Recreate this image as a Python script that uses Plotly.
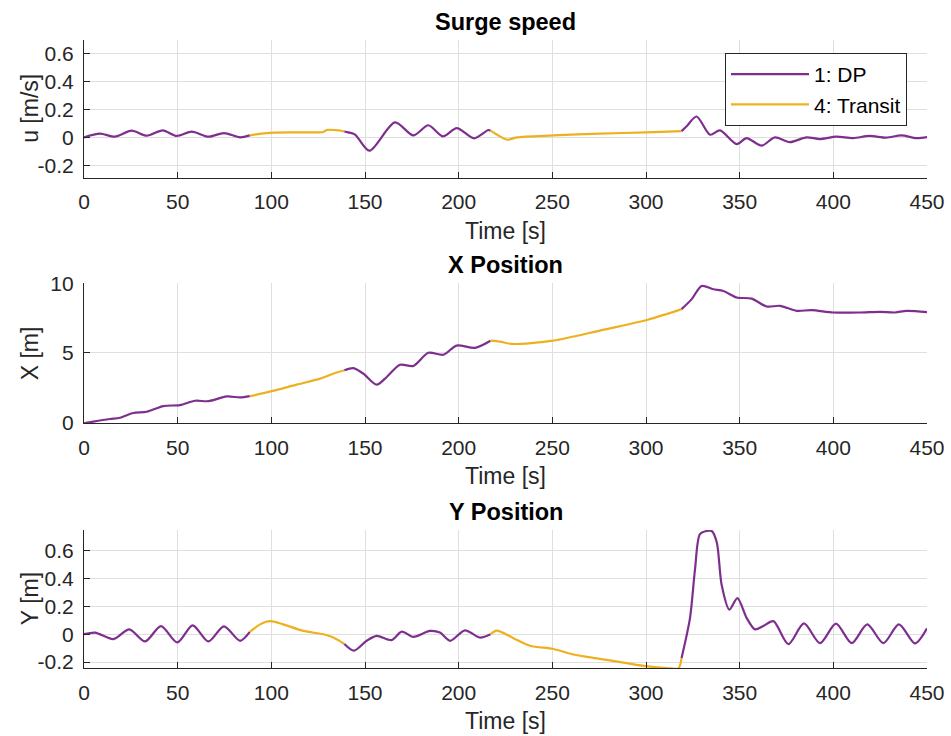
import plotly.graph_objects as go

# ---------------- data ----------------
MODE_BOUNDS = [0, 88.5, 139, 217, 319, 450]
MODE_NAMES = ["1: DP", "4: Transit", "1: DP", "4: Transit", "1: DP"]

t_u = [0, 8.5, 16.5, 25.4, 33.5, 42, 49.5, 57.5, 66.4, 74.7, 83.3, 88.5,
       97.5, 113.5, 127.8, 129.5, 136, 139,
       141, 144.7, 152.3, 166, 175.8, 183.8, 191.5, 199, 208.2, 215.8, 217,
       222, 226, 231, 250.6, 275.4, 300.4, 319,
       321.7, 327, 334.2, 339.5, 348.4, 353.7, 361.7, 368.8, 376.8, 385.7,
       392.8, 401.6, 410.5, 419.4, 428.3, 436.3, 444.3, 450]
u_vals = [0, 0.027, 0.005, 0.048, 0.012, 0.05, 0.01, 0.041, 0.005, 0.031, 0.0, 0.014,
          0.031, 0.036, 0.039, 0.053, 0.05, 0.042,
          0.036, 0.02, -0.096, 0.108, 0.014, 0.087, 0.007, 0.067, -0.007, 0.053, 0.048,
          0.007, -0.017, 0.0, 0.014, 0.027, 0.036, 0.045,
          0.08, 0.15, 0.019, 0.05, -0.048, -0.005, -0.06, 0.0, -0.034, 0.0,
          -0.012, 0.005, -0.005, 0.01, -0.002, 0.014, -0.005, 0.002]

t_x = [0, 5, 13.9, 19.2, 26.3, 33.5, 42.3, 51.2, 59.3, 66.4, 76.2, 83.3, 88.5,
       100.2, 113.5, 126, 133, 139,
       143.8, 149.1, 156.2, 161.6, 168.7, 175.8, 183.8, 191.8, 198.9, 208.7, 217,
       222, 228.3, 250.6, 275.4, 300.9, 319,
       324.4, 329.7, 335.9, 341.3, 348.4, 356.4, 364.4, 371.5, 380.4, 388.4,
       400, 414.2, 424.9, 432.9, 439.1, 450]
x_vals = [-0.07, 0.05, 0.24, 0.33, 0.67, 0.76, 1.17, 1.24, 1.55, 1.52, 1.86, 1.79, 1.88,
          2.24, 2.71, 3.14, 3.5, 3.75,
          3.9, 3.5, 2.71, 3.26, 4.14, 4.05, 5.0, 4.86, 5.52, 5.36, 5.87,
          5.81, 5.64, 5.88, 6.6, 7.38, 8.14,
          8.86, 9.81, 9.57, 9.45, 8.98, 8.9, 8.33, 8.38, 8.02, 8.07,
          7.9, 7.9, 7.95, 7.9, 8.02, 7.93]

t_y = [0, 5.9, 15.7, 24.2, 32.6, 41.1, 49.8, 58, 66.4, 74.7, 83.3, 88.5,
       94, 99.3, 106.4, 117.1, 127.8, 133.1, 139,
       144.1, 150.9, 156.2, 164.2, 169.6, 175.8, 184.7, 190, 195.4, 203.4, 211.4, 217,
       220.3, 229.2, 238.1, 250.6, 261.2, 275.4, 289.6, 300.9, 311, 317.3, 319,
       323.5, 326.2, 328.8, 332.4, 335.1, 337.8, 340.4, 344.5, 348.8, 353.7, 358.2,
       362.6, 368, 376, 384.3, 392.9, 401.4, 409.8, 418.1, 426.7, 435, 443.6, 450]
y_vals = [0, 0.012, -0.035, 0.035, -0.052, 0.059, -0.059, 0.064, -0.052, 0.057, -0.047, 0.017,
          0.071, 0.094, 0.071, 0.024, 0.0, -0.024, -0.07,
          -0.118, -0.047, -0.012, -0.042, 0.019, -0.019, 0.024, 0.012, -0.047, 0.028, -0.024, 0.0,
          0.026, -0.028, -0.083, -0.106, -0.146, -0.177, -0.208, -0.231, -0.243, -0.245, -0.17,
          0.118, 0.472, 0.72, 0.743, 0.743, 0.66, 0.354, 0.177, 0.26, 0.118, 0.035,
          0.059, 0.094, -0.071, 0.078, -0.064, 0.076, -0.064, 0.071, -0.064, 0.071, -0.066, 0.042]

x_ticks = [0, 50, 100, 150, 200, 250, 300, 350, 400, 450]
u_ticks = [-0.2, 0, 0.2, 0.4, 0.6]
u_ticktext = ["-0.2", "0", "0.2", "0.4", "0.6"]
X_ticks = [0, 5, 10]
Y_ticks = [-0.2, 0, 0.2, 0.4, 0.6]
Y_ticktext = ["-0.2", "0", "0.2", "0.4", "0.6"]

titles = ["Surge speed", "X Position", "Y Position"]
ylabels = ["u [m/s]", "X [m]", "Y [m]"]
xlabel = "Time [s]"

# ---------------- styling ----------------
W, H = 951, 736
COL = {"1: DP": "#7E2F8E", "4: Transit": "#EDB120"}
FONT = "Liberation Sans, Arial, Helvetica, sans-serif"
AXC = "#262626"
GRID = "#dfdfdf"

def px_y(p):
    return 1 - p / H

x_dom = [84 / W, 927 / W]
panels = [  # (top px, bottom px)
    (40, 177.7),
    (283.3, 423.3),
    (530, 668.3),
]
yranges = [[-0.29, 0.7], [-0.07, 10], [-0.245, 0.75]]
yticks = [(u_ticks, u_ticktext), (X_ticks, [str(v) for v in X_ticks]), (Y_ticks, Y_ticktext)]
series = [(t_u, u_vals), (t_x, x_vals), (t_y, y_vals)]

fig = go.Figure()
shown = set()
for k, (tt, vv) in enumerate(series):
    xa = "x" if k == 0 else f"x{k+1}"
    ya = "y" if k == 0 else f"y{k+1}"
    for s in range(len(MODE_NAMES)):
        lo, hi = MODE_BOUNDS[s], MODE_BOUNDS[s + 1]
        seg_t = [t for t in tt if lo <= t <= hi]
        seg_v = [v for t, v in zip(tt, vv) if lo <= t <= hi]
        name = MODE_NAMES[s]
        show = (k == 0 and name not in shown)
        if show:
            shown.add(name)
        fig.add_trace(go.Scatter(
            x=seg_t, y=seg_v, mode="lines", name=name, legendgroup=name,
            showlegend=show, xaxis=xa, yaxis=ya,
            line=dict(color=COL[name], width=2.2, shape="spline", smoothing=0.8),
        ))

annotations = []
layout = dict(
    width=W, height=H, margin=dict(l=0, r=0, t=0, b=0, autoexpand=False),
    paper_bgcolor="white", plot_bgcolor="white",
    font=dict(family=FONT, size=21, color=AXC),
    showlegend=True,
    legend=dict(x=907 / W, xanchor="right", y=px_y(53), yanchor="top",
                bgcolor="white", bordercolor="#262626", borderwidth=1,
                font=dict(family=FONT, size=21, color="black"),
                tracegroupgap=0, itemwidth=78),
)
for k in range(3):
    top, bot = panels[k]
    xk = "xaxis" if k == 0 else f"xaxis{k+1}"
    yk = "yaxis" if k == 0 else f"yaxis{k+1}"
    ya = "y" if k == 0 else f"y{k+1}"
    xa = "x" if k == 0 else f"x{k+1}"
    layout[xk] = dict(
        domain=x_dom, anchor=ya, range=[0, 450], tickvals=x_ticks,
        ticktext=[str(v) for v in x_ticks], automargin=False,
        showgrid=True, gridcolor=GRID, gridwidth=1, zeroline=False,
        showline=True, linecolor=AXC, linewidth=1.2, mirror=False,
        ticks="inside", ticklen=6, tickcolor=AXC, tickwidth=1.2,
        tickfont=dict(family=FONT, size=21, color=AXC), ticklabelstandoff=5,
    )
    layout[yk] = dict(
        domain=[px_y(bot), px_y(top)], anchor=xa, range=yranges[k],
        tickvals=yticks[k][0], ticktext=yticks[k][1], automargin=False,
        showgrid=True, gridcolor=GRID, gridwidth=1, zeroline=False,
        showline=True, linecolor=AXC, linewidth=1.2, mirror=False,
        ticks="inside", ticklen=6, tickcolor=AXC, tickwidth=1.2,
        tickfont=dict(family=FONT, size=21, color=AXC), ticklabelstandoff=5,
    )
    # title
    annotations.append(dict(text=f"<b>{titles[k]}</b>", xref="paper", yref="paper",
                            x=(84 + 927) / 2 / W, y=px_y(top - 18), xanchor="center", yanchor="middle",
                            showarrow=False, font=dict(family=FONT, size=23.5, color="black")))
    # x label
    annotations.append(dict(text=xlabel, xref="paper", yref="paper",
                            x=(84 + 927) / 2 / W, y=px_y(bot + 53), xanchor="center", yanchor="middle",
                            showarrow=False, font=dict(family=FONT, size=23, color=AXC)))
    # y label
    annotations.append(dict(text=ylabels[k], xref="paper", yref="paper", textangle=-90,
                            x=30 / W, y=px_y((top + bot) / 2), xanchor="center", yanchor="middle",
                            showarrow=False, font=dict(family=FONT, size=23, color=AXC)))

layout["annotations"] = annotations
fig.update_layout(**layout)
fig.write_html("out.html")
